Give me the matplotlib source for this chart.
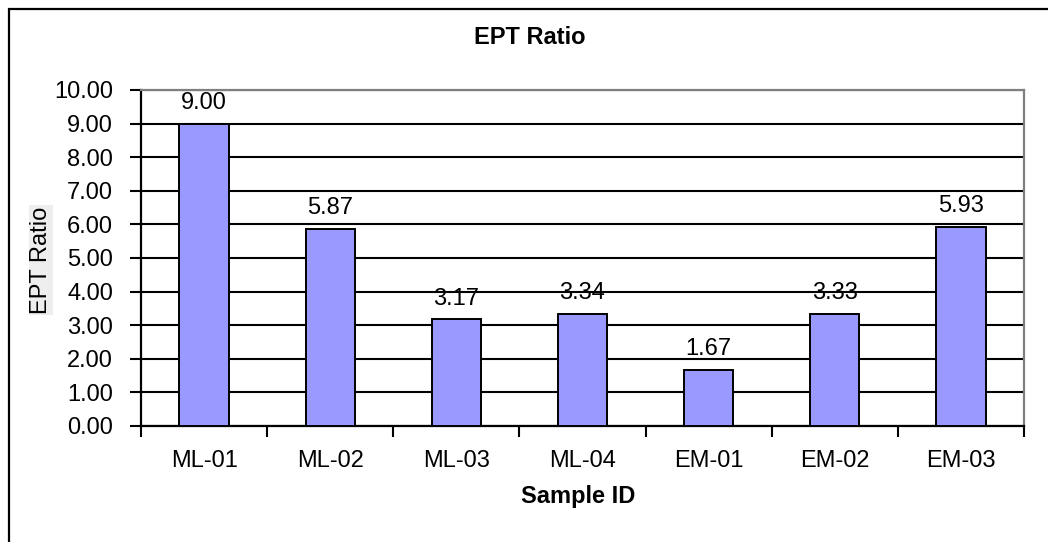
import numpy as np
import matplotlib
matplotlib.use('Agg')
from matplotlib import pyplot as plt
from matplotlib.patches import Rectangle

plt.rcParams['font.family'] = ['Liberation Sans', 'DejaVu Sans']

samples = ['ML-01', 'ML-02', 'ML-03', 'ML-04', 'EM-01', 'EM-02', 'EM-03']
ept_ratio = [9.00, 5.87, 3.17, 3.34, 1.67, 3.33, 5.93]
bar_labels = ['9.00', '5.87', '3.17', '3.34', '1.67', '3.33', '5.93']

fig = plt.figure(figsize=(10.48, 5.42), dpi=100)
ax = fig.add_axes([141 / 1048, 1 - 426 / 542, (1024 - 141) / 1048, (426 - 90) / 542])

# outer chart border (clipped at right / bottom like the original)
fig.patches.append(Rectangle((9 / 1048, -0.1), 1.2, 1 - 9 / 542 + 0.1,
                             transform=fig.transFigure, fill=False,
                             edgecolor='black', linewidth=1.6))

x = np.arange(len(samples))
ax.bar(x, ept_ratio, width=0.39, color='#9999FF', edgecolor='black',
       linewidth=1.4, zorder=3)

for xi, v, lab in zip(x, ept_ratio, bar_labels):
    ax.annotate(lab, (xi, v), xytext=(0, 7), textcoords='offset points',
                ha='center', va='bottom', fontsize=17)

ax.set_xlim(-0.5, len(samples) - 0.5)
ax.set_ylim(0, 10)
ax.set_yticks(np.arange(0, 10.01, 1))
ax.set_yticklabels(['%.2f' % t for t in np.arange(0, 10.01, 1)])
ax.yaxis.grid(True, color='black', linewidth=1.5, zorder=0)
ax.set_axisbelow(True)

ax.set_xticks(x)
ax.set_xticklabels(samples)
ax.set_xticks(np.arange(-0.5, len(samples), 1), minor=True)
ax.tick_params(axis='x', which='major', length=0, pad=17, labelsize=17)
ax.tick_params(axis='x', which='minor', length=8, width=1.5, direction='out')
ax.tick_params(axis='y', length=8, width=1.5, direction='out', labelsize=17, pad=12)

for s in ['left', 'bottom']:
    ax.spines[s].set_color('black')
    ax.spines[s].set_linewidth(1.6)
for s in ['top', 'right']:
    ax.spines[s].set_color('#808080')
    ax.spines[s].set_linewidth(1.6)

fig.text(530 / 1048, 1 - 38 / 542, 'EPT Ratio', ha='center', va='center',
         fontsize=17, fontweight='bold')
fig.text(41 / 1048, 1 - 260 / 542, 'EPT Ratio', ha='center', va='center',
         rotation=90, fontsize=17,
         bbox=dict(facecolor='#eeeeee', edgecolor='none', pad=1))
fig.text(578 / 1048, 1 - 496 / 542, 'Sample ID', ha='center', va='center',
         fontsize=17, fontweight='bold')

plt.savefig('out.png', dpi=100)
